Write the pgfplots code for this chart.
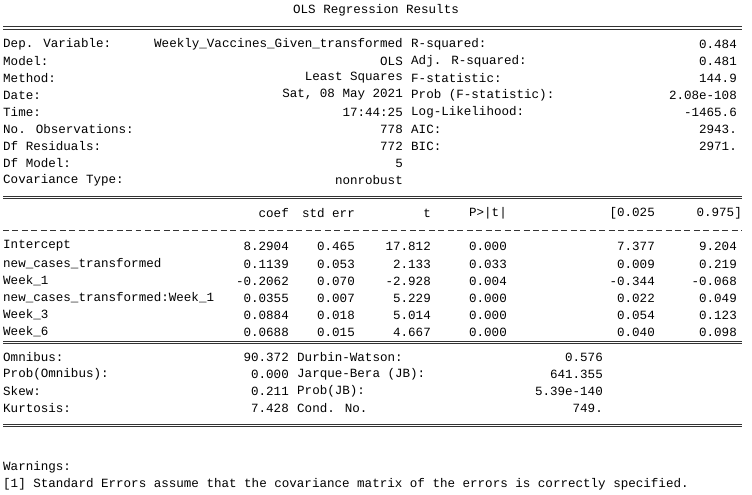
\documentclass[border=0pt]{standalone}
\usepackage{fontspec}
\setmainfont{Liberation Mono}
\usepackage{pgfplots}
\pgfplotsset{compat=1.18}
\newcommand\W[3]{\node[anchor=west,inner sep=0pt] at (axis cs:#1,#2){#3};}
\newcommand\E[3]{\node[anchor=east,inner sep=0pt] at (axis cs:#1,#2){#3};}
\newcommand\Eq[1]{\draw[line width=0.6pt,black!80] (axis cs:3,#1-1.2)--(axis cs:742,#1-1.2); \draw[line width=0.6pt,black!80] (axis cs:3,#1+1.2)--(axis cs:742,#1+1.2);}
\begin{document}
\begin{tikzpicture}
\begin{axis}[scale only axis, width=752bp, height=495bp, xmin=0, xmax=752, ymin=0, ymax=495,
  y dir=reverse, hide axis, clip=false]
\fill[white] (axis cs:0,0) rectangle (axis cs:752,495);
\fontsize{12.6}{15}\selectfont
\node[inner sep=0pt] at (axis cs:376,10){OLS Regression Results};
\Eq{28}
\W{3}{44}{Dep. Variable:}\E{403}{44}{Weekly\_Vaccines\_Given\_transformed}\W{411}{44}{R-squared:}\E{737}{44}{0.484}
\W{3}{61}{Model:}\E{403}{61}{OLS}\W{411}{61}{Adj. R-squared:}\E{737}{61}{0.481}
\W{3}{78}{Method:}\E{403}{78}{Least Squares}\W{411}{78}{F-statistic:}\E{737}{78}{144.9}
\W{3}{95}{Date:}\E{403}{95}{Sat, 08 May 2021}\W{411}{95}{Prob (F-statistic):}\E{737}{95}{2.08e-108}
\W{3}{112}{Time:}\E{403}{112}{17:44:25}\W{411}{112}{Log-Likelihood:}\E{737}{112}{-1465.6}
\W{3}{129}{No. Observations:}\E{403}{129}{778}\W{411}{129}{AIC:}\E{737}{129}{2943.}
\W{3}{146}{Df Residuals:}\E{403}{146}{772}\W{411}{146}{BIC:}\E{737}{146}{2971.}
\W{3}{163}{Df Model:}\E{403}{163}{5}
\W{3}{180}{Covariance Type:}\E{403}{180}{nonrobust}
\Eq{197}
\E{289}{213}{coef}\E{355}{213}{std err}\E{431}{213}{t}\E{507}{213}{P>|t|}\E{655}{213}{[0.025}\E{742}{213}{0.975]}
\draw[line width=0.7pt,black!80,dash pattern=on 6pt off 3.5pt] (axis cs:3,230)--(axis cs:742,230);
\W{3}{246}{Intercept}\E{289}{246}{8.2904}\E{355}{246}{0.465}\E{431}{246}{17.812}\E{507}{246}{0.000}\E{655}{246}{7.377}\E{737}{246}{9.204}
\W{3}{264}{new\_cases\_transformed}\E{289}{264}{0.1139}\E{355}{264}{0.053}\E{431}{264}{2.133}\E{507}{264}{0.033}\E{655}{264}{0.009}\E{737}{264}{0.219}
\W{3}{281}{Week\_1}\E{289}{281}{-0.2062}\E{355}{281}{0.070}\E{431}{281}{-2.928}\E{507}{281}{0.004}\E{655}{281}{-0.344}\E{737}{281}{-0.068}
\W{3}{298}{new\_cases\_transformed:Week\_1}\E{289}{298}{0.0355}\E{355}{298}{0.007}\E{431}{298}{5.229}\E{507}{298}{0.000}\E{655}{298}{0.022}\E{737}{298}{0.049}
\W{3}{315}{Week\_3}\E{289}{315}{0.0884}\E{355}{315}{0.018}\E{431}{315}{5.014}\E{507}{315}{0.000}\E{655}{315}{0.054}\E{737}{315}{0.123}
\W{3}{332}{Week\_6}\E{289}{332}{0.0688}\E{355}{332}{0.015}\E{431}{332}{4.667}\E{507}{332}{0.000}\E{655}{332}{0.040}\E{737}{332}{0.098}
\Eq{342}
\W{3}{357}{Omnibus:}\E{289}{357}{90.372}\W{297}{357}{Durbin-Watson:}\E{603}{357}{0.576}
\W{3}{374}{Prob(Omnibus):}\E{289}{374}{0.000}\W{297}{374}{Jarque-Bera (JB):}\E{603}{374}{641.355}
\W{3}{391}{Skew:}\E{289}{391}{0.211}\W{297}{391}{Prob(JB):}\E{603}{391}{5.39e-140}
\W{3}{408}{Kurtosis:}\E{289}{408}{7.428}\W{297}{408}{Cond. No.}\E{603}{408}{749.}
\Eq{425}
\W{3}{467}{Warnings:}
\W{3}{484}{[1] Standard Errors assume that the covariance matrix of the errors is correctly specified.}
\end{axis}
\end{tikzpicture}
\end{document}
